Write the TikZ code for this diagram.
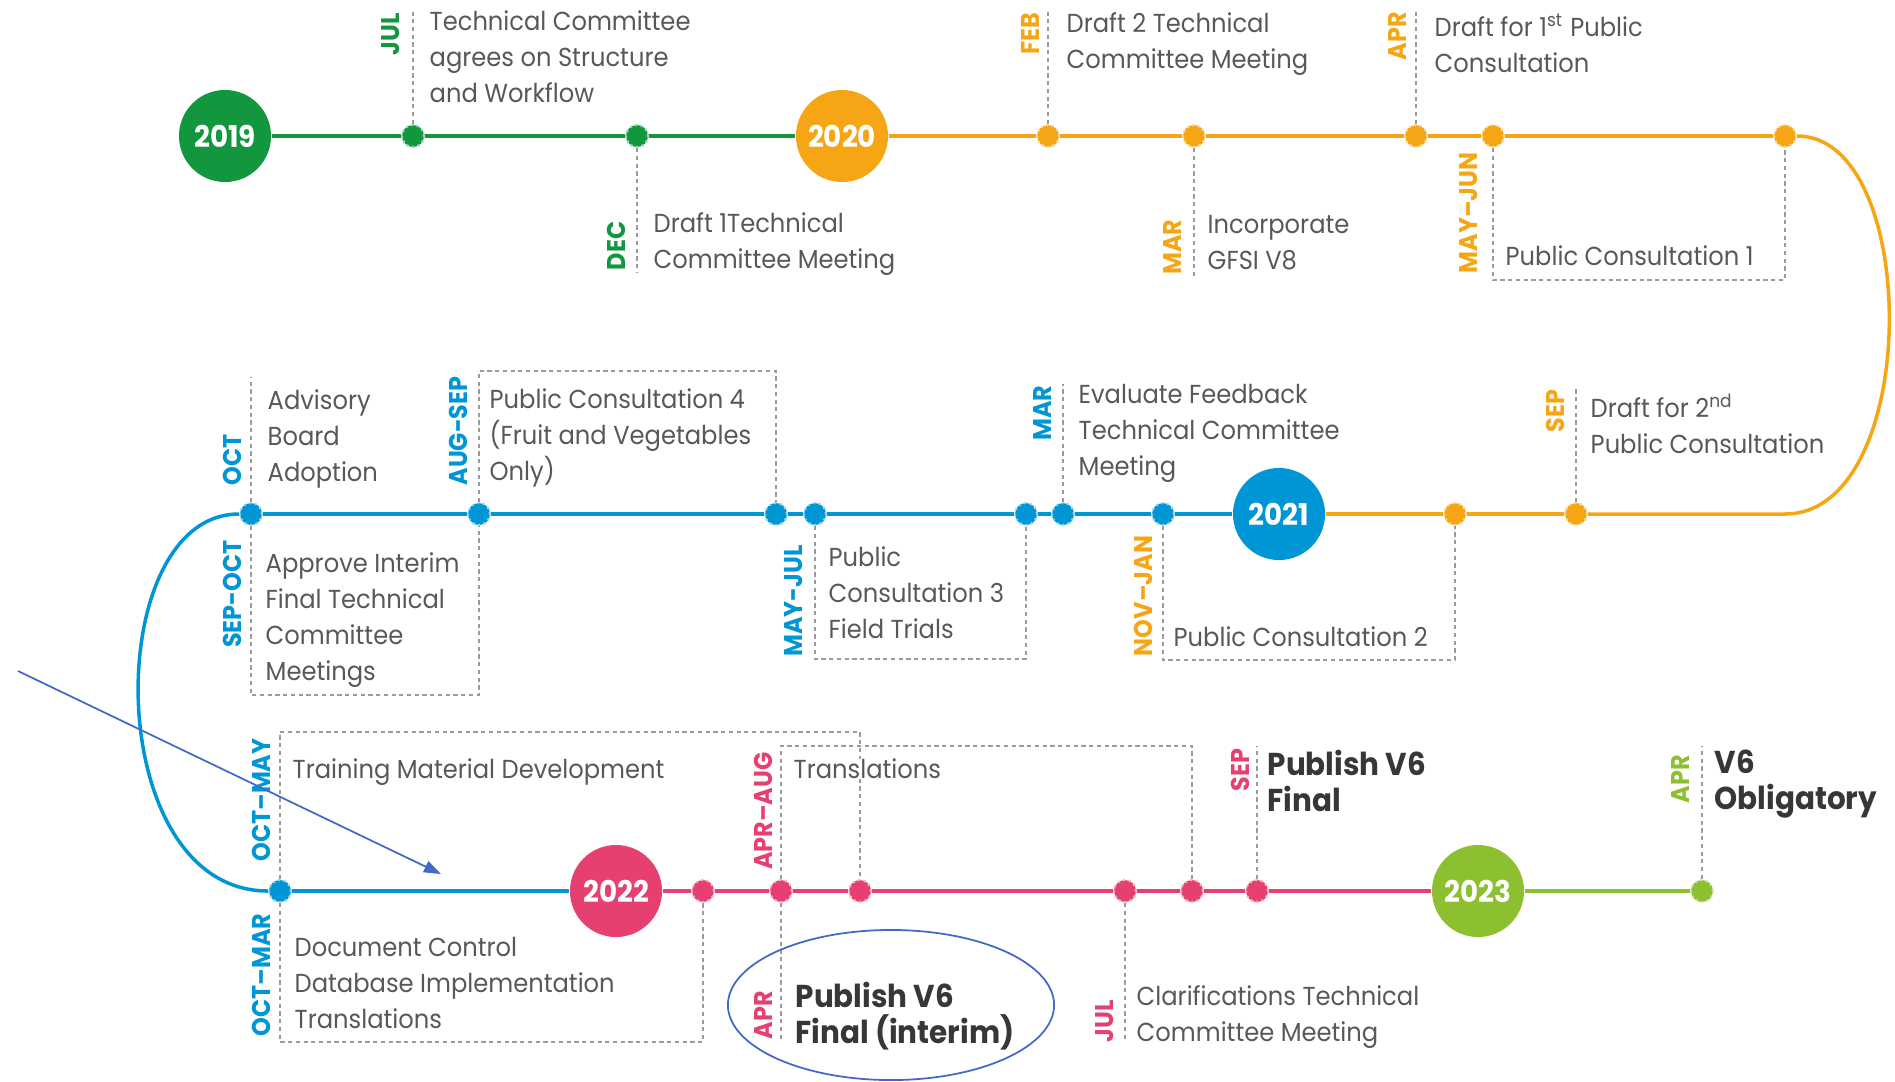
\documentclass[tikz,border=0pt]{standalone}
\usepackage{fontspec}
\setmainfont{Poppins}[FakeStretch=0.93]
\usetikzlibrary{arrows.meta}
\definecolor{cgreen}{RGB}{18,150,62}
\definecolor{corange}{RGB}{246,166,20}
\definecolor{cblue}{RGB}{0,150,214}
\definecolor{cpink}{RGB}{230,64,112}
\definecolor{clime}{RGB}{141,192,48}
\definecolor{ctext}{RGB}{88,88,88}
\definecolor{cdark}{RGB}{55,55,55}
\definecolor{cguide}{RGB}{155,155,155}
\definecolor{cnote}{RGB}{66,104,200}

\begin{document}
\begin{tikzpicture}[
        x=0.01cm, y=-0.01cm,
        year/.style={circle, fill=#1, minimum size=0.92cm, inner sep=0pt, text=white, font=\fontsize{8.5}{9}\selectfont\bfseries},
        dot/.style={circle, fill=#1, draw=#1!40, densely dotted, line width=0.6pt, minimum size=0.22cm, inner sep=0pt},
        track/.style={draw=#1, line width=1pt},
        guide/.style={draw=cguide, dash pattern=on 1.2pt off 1pt, line width=0.4pt},
        month/.style={rotate=90, inner sep=0pt, text=#1, font=\fontsize{7.3}{8}\selectfont\bfseries},
        note/.style={anchor=north west, inner sep=0pt, align=left, text=ctext, font=\fontsize{7.4}{10.2}\selectfont},
        keynote/.style={note, text=cdark, font=\fontsize{9}{10.4}\selectfont\bfseries},
        annot/.style={draw=cnote, line width=0.5pt}
    ]
        \useasboundingbox (0,0) rectangle (1895,1081);

        % years
        \node[year=cgreen] (y2019) at (225,136) {2019};
        \node[year=corange] (y2020) at (842,136) {2020};
        \node[year=cblue] (y2021) at (1279,514) {2021};
        \node[year=cpink] (y2022) at (616,891) {2022};
        \node[year=clime] (y2023) at (1478,891) {2023};

        % first row
        \node[dot=cgreen] (jul19) at (413,136) {};
        \node[dot=cgreen] (dec19) at (637,136) {};
        \node[dot=corange] (feb20) at (1048,136) {};
        \node[dot=corange] (mar20) at (1194,136) {};
        \node[dot=corange] (apr20) at (1416,136) {};
        \node[dot=corange] (may20) at (1493,136) {};
        \node[dot=corange] (jun20) at (1785,136) {};

        % second row
        \node[dot=corange] (sep20) at (1576,514) {};
        \node[dot=corange] (nov20) at (1455,514) {};
        \node[dot=cblue] (jan21) at (1163,514) {};
        \node[dot=cblue] (mar21) at (1063,514) {};
        \node[dot=cblue] (jul21) at (1026,514) {};
        \node[dot=cblue] (may21) at (815,514) {};
        \node[dot=cblue] (sep21) at (776,514) {};
        \node[dot=cblue] (aug21) at (479,514) {};
        \node[dot=cblue] (oct21) at (251,514) {};

        % third row
        \node[dot=cblue] (oct22) at (280,891) {};
        \node[dot=cpink] (mar22) at (703,891) {};
        \node[dot=cpink] (apr22) at (781,891) {};
        \node[dot=cpink] (may22) at (860,891) {};
        \node[dot=cpink] (jul22) at (1125,891) {};
        \node[dot=cpink] (aug22) at (1192,891) {};
        \node[dot=cpink] (sep22) at (1257,891) {};
        \node[dot=clime] (apr23) at (1702,891) {};

        % timeline
        \coordinate (bendR) at (1785,514);
        \draw[track=cgreen] (y2019) -- (jul19);
        \draw[track=cgreen] (jul19) -- (dec19);
        \draw[track=cgreen] (dec19) -- (y2020);
        \draw[track=corange] (y2020) -- (feb20);
        \draw[track=corange] (feb20) -- (mar20);
        \draw[track=corange] (mar20) -- (apr20);
        \draw[track=corange] (apr20) -- (may20);
        \draw[track=corange] (may20) -- (jun20);
        \draw[track=corange] (jun20.east) .. controls (1922,136) and (1922,514) .. (bendR) -- (sep20);
        \draw[track=corange] (sep20) -- (nov20);
        \draw[track=corange] (nov20) -- (y2021);
        \draw[track=cblue] (y2021) -- (jan21);
        \draw[track=cblue] (jan21) -- (mar21);
        \draw[track=cblue] (mar21) -- (jul21);
        \draw[track=cblue] (jul21) -- (may21);
        \draw[track=cblue] (may21) -- (sep21);
        \draw[track=cblue] (sep21) -- (aug21);
        \draw[track=cblue] (aug21) -- (oct21);
        \draw[track=cblue] (oct21.west) .. controls (100,514) and (100,891) .. (oct22.west);
        \draw[track=cblue] (oct22) -- (y2022);
        \draw[track=cpink] (y2022) -- (mar22);
        \draw[track=cpink] (mar22) -- (apr22);
        \draw[track=cpink] (apr22) -- (may22);
        \draw[track=cpink] (may22) -- (jul22);
        \draw[track=cpink] (jul22) -- (aug22);
        \draw[track=cpink] (aug22) -- (sep22);
        \draw[track=cpink] (sep22) -- (y2023);
        \draw[track=clime] (y2023) -- (apr23);

        % guides and boxes
        \coordinate (jul19end) at (413,12);
        \coordinate (dec19end) at (637,272);
        \coordinate (feb20end) at (1048,12);
        \coordinate (mar20end) at (1194,276);
        \coordinate (apr20end) at (1416,12);
        \coordinate (pc1a) at (1493,280);
        \coordinate (pc1b) at (1785,280);
        \coordinate (oct21end) at (251,377);
        \coordinate (apprA) at (251,695);
        \coordinate (apprB) at (479,695);
        \coordinate (pc4a) at (479,371);
        \coordinate (pc4b) at (776,371);
        \coordinate (pc3a) at (815,659);
        \coordinate (pc3b) at (1026,659);
        \coordinate (mar21end) at (1063,384);
        \coordinate (pc2a) at (1163,660);
        \coordinate (pc2b) at (1455,660);
        \coordinate (sep20end) at (1576,387);
        \coordinate (trainA) at (280,732);
        \coordinate (trainB) at (860,732);
        \coordinate (docA) at (280,1042);
        \coordinate (docB) at (703,1042);
        \coordinate (transA) at (781,746);
        \coordinate (transB) at (1192,746);
        \coordinate (apr22end) at (781,1042);
        \coordinate (jul22end) at (1125,1042);
        \coordinate (sep22end) at (1257,746);
        \coordinate (apr23end) at (1702,746);

        \draw[guide] (jul19) -- (jul19end);
        \draw[guide] (dec19) -- (dec19end);
        \draw[guide] (feb20) -- (feb20end);
        \draw[guide] (mar20) -- (mar20end);
        \draw[guide] (apr20) -- (apr20end);
        \draw[guide] (may20) -- (pc1a) -- (pc1b) -- (jun20);
        \draw[guide] (oct21) -- (oct21end);
        \draw[guide] (oct21) -- (apprA) -- (apprB) -- (aug21);
        \draw[guide] (aug21) -- (pc4a) -- (pc4b) -- (sep21);
        \draw[guide] (may21) -- (pc3a) -- (pc3b) -- (jul21);
        \draw[guide] (mar21) -- (mar21end);
        \draw[guide] (jan21) -- (pc2a) -- (pc2b) -- (nov20);
        \draw[guide] (sep20) -- (sep20end);
        \draw[guide] (oct22) -- (trainA) -- (trainB) -- (may22);
        \draw[guide] (oct22) -- (docA) -- (docB) -- (mar22);
        \draw[guide] (apr22) -- (transA) -- (transB) -- (aug22);
        \draw[guide] (apr22) -- (apr22end);
        \draw[guide] (jul22) -- (jul22end);
        \draw[guide] (sep22) -- (sep22end);
        \draw[guide] (apr23) -- (apr23end);

        % months and texts, first row
        \node[month=cgreen] (julL) at (391,34) {JUL};
        \node[note] (julT) at (429,10) {Technical Committee\\agrees on Structure\\and Workflow};
        \node[month=cgreen] (decL) at (616,246) {DEC};
        \node[note] (decT) at (653,212) {Draft 1Technical\\Committee Meeting};
        \node[month=corange] (febL) at (1030,34) {FEB};
        \node[note] (febT) at (1066,12) {Draft 2 Technical\\Committee Meeting};
        \node[month=corange] (marL) at (1172,247) {MAR};
        \node[note] (marT) at (1207,215) {Incorporate\\GFSI V8};
        \node[month=corange] (aprL) at (1397,36) {APR};
        \node[note] (aprT) at (1434,13) {Draft for 1\textsuperscript{st} Public\\Consultation};
        \node[month=corange] (mayL) at (1469,213) {MAY–JUN};
        \node[note] (mayT) at (1505,245) {Public Consultation 1};

        % second row
        \node[month=cblue] (octL) at (232,460) {OCT};
        \node[note] (octT) at (267,389) {Advisory\\Board\\Adoption};
        \node[month=cblue] (sepoL) at (232,594) {SEP-OCT};
        \node[note] (sepoT) at (265,552) {Approve Interim\\Final Technical\\Committee\\Meetings};
        \node[month=cblue] (augL) at (458,431) {AUG-SEP};
        \node[note] (augT) at (489,388) {Public Consultation 4\\(Fruit and Vegetables\\Only)};
        \node[month=cblue] (mayjL) at (794,601) {MAY-JUL};
        \node[note] (mayjT) at (828,546) {Public\\Consultation 3\\Field Trials};
        \node[month=cblue] (marjL) at (1042,413) {MAR};
        \node[note] (marjT) at (1078,384) {Evaluate Feedback\\Technical Committee\\Meeting};
        \node[month=corange] (novL) at (1143,596) {NOV–JAN};
        \node[note] (novT) at (1173,626) {Public Consultation 2};
        \node[month=corange] (sepL) at (1555,411) {SEP};
        \node[note] (sepT) at (1590,393) {Draft for 2\textsuperscript{nd}\\Public Consultation};

        % third row
        \node[month=cblue] (trainL) at (261,800) {OCT–MAY};
        \node[note] (trainT) at (292,758) {Training Material Development};
        \node[month=cblue] (docL) at (261,975) {OCT–MAR};
        \node[note] (docT) at (294,937) {Document Control\\Database Implementation\\Translations};
        \node[month=cpink] (transL) at (763,811) {APR–AUG};
        \node[note, fill=white] (transT) at (793,758) {Translations};
        \node[month=cpink] (aprpL) at (763,1015) {APR};
        \node[keynote] (aprpT) at (795,981) {Publish V6\\Final (interim)};
        \node[month=cpink] (julcL) at (1105,1021) {JUL};
        \node[note] (julcT) at (1136,985) {Clarifications Technical\\Committee Meeting};
        \node[month=cpink] (sepfL) at (1240,770) {SEP};
        \node[keynote] (sepfT) at (1267,749) {Publish V6\\Final};
        \node[month=clime] (oblL) at (1680,779) {APR};
        \node[keynote] (oblT) at (1714,749) {V6\\Obligatory};

        % annotations
        \coordinate (arrowtail) at (18,671);
        \coordinate (arrowtip) at (441,874);
        \draw[annot, -{Triangle[length=0.17cm, width=0.12cm]}] (arrowtail) -- (arrowtip);
        \draw[annot] (891,1005) ellipse [x radius=1.63cm, y radius=0.75cm];
    \end{tikzpicture}
\end{document}
